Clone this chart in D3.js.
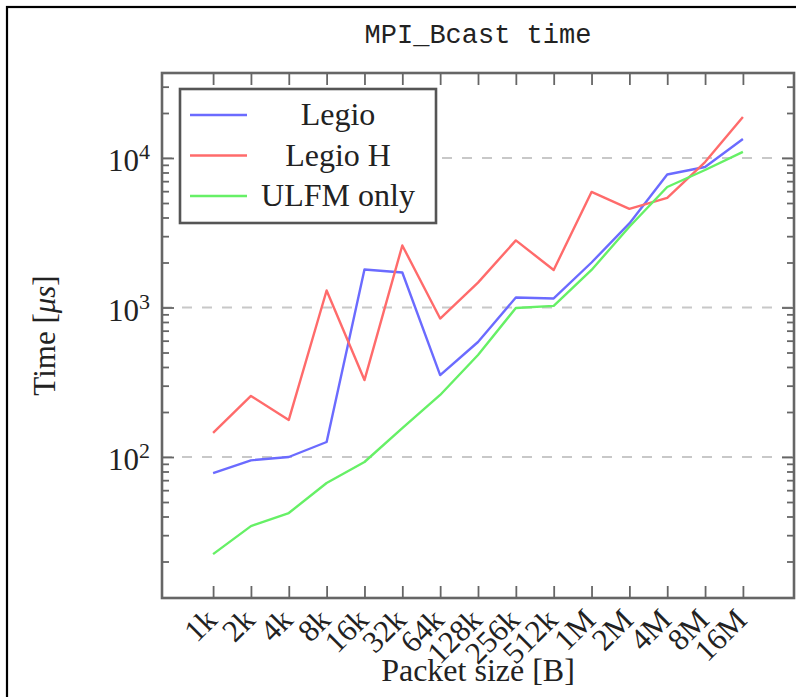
<!DOCTYPE html>
<html>
<head>
<meta charset="utf-8">
<script src="https://cdn.jsdelivr.net/npm/d3@7"></script>
<style>
  body { margin: 0; background: #fff; }
  svg { display: block; }
</style>
</head>
<body>
<div id="chart"></div>
<script>
"use strict";

// Data (time in microseconds)
const packetSizes = ["1k", "2k", "4k", "8k", "16k", "32k", "64k", "128k", "256k", "512k", "1M", "2M", "4M", "8M", "16M"];
const legioTimes = [78, 95, 100, 126, 1795, 1714, 353, 588, 1166, 1150, 2000, 3650, 7760, 8710, 13400];
const legioHTimes = [145, 256, 177, 1300, 327, 2600, 844, 1468, 2810, 1783, 5930, 4570, 5410, 9400, 18800];
const ulfmTimes = [22.4, 34.5, 42.2, 67, 92.6, 156, 260, 481, 993, 1025, 1783, 3470, 6400, 8310, 11000];
const seriesNames = ["Legio", "Legio H", "ULFM only"];
const seriesColors = ["#6b6bff", "#ff6b6b", "#66f066"];
const yDomain = [11.4, 37030];
const yGridValues = [100, 1000, 10000];

const chtWidth = 796,
  chtHeight = 697;

const margin = { top: 73, right: 2, bottom: 99, left: 162 };
const width = chtWidth - margin.left - margin.right,
  height = chtHeight - margin.top - margin.bottom;

const serifFont = "'Liberation Serif', 'Times New Roman', serif",
  monoFont = "'Liberation Mono', 'DejaVu Sans Mono', monospace",
  axisColor = "#666";

const series = seriesNames.map((name, i) => ({
  name: name,
  color: seriesColors[i],
  values: [legioTimes, legioHTimes, ulfmTimes][i].map((v, j) => ({ size: packetSizes[j], time: v })),
}));

const svg = d3
  .select("#chart")
  .append("svg")
  .attr("width", chtWidth)
  .attr("height", chtHeight);

svg.append("rect").attr("width", chtWidth).attr("height", chtHeight).attr("fill", "#fff");

// outer frame (cropped at right and bottom in the original)
svg
  .append("rect")
  .attr("x", 7)
  .attr("y", 7)
  .attr("width", 900)
  .attr("height", 900)
  .attr("fill", "none")
  .attr("stroke", "#000")
  .attr("stroke-width", 2.2);

const g = svg.append("g").attr("transform", `translate(${margin.left},${margin.top})`);

const x = d3.scalePoint().domain(packetSizes).range([0, width]).padding(1.35);
const y = d3.scaleLog().domain(yDomain).range([height, 0]);

// dashed major grid
g.append("g")
  .selectAll("line")
  .data(yGridValues)
  .join("line")
  .attr("x1", 0)
  .attr("x2", width)
  .attr("y1", (d) => y(d))
  .attr("y2", (d) => y(d))
  .attr("stroke", "#c8c8c8")
  .attr("stroke-width", 2)
  .attr("stroke-dasharray", "10,10");

// series lines
const line = d3
  .line()
  .x((d) => x(d.size))
  .y((d) => y(d.time));

g.append("g")
  .selectAll("path")
  .data(series)
  .join("path")
  .attr("d", (d) => line(d.values))
  .attr("fill", "none")
  .attr("stroke", (d) => d.color)
  .attr("stroke-width", 2.4)
  .attr("stroke-linejoin", "round");

// ticks, all pointing inwards
const allTicks = y.ticks();
const majorTicks = allTicks.filter((d) => Math.abs(Math.log10(d) - Math.round(Math.log10(d))) < 1e-9);
const minorTicks = allTicks.filter((d) => !majorTicks.includes(d));

function styleTicks(sel) {
  sel.select(".domain").remove();
  sel.selectAll(".tick line").attr("stroke", axisColor).attr("stroke-width", 1.8);
  sel.selectAll(".tick text").remove();
}

g.append("g").call(d3.axisLeft(y).tickValues(majorTicks).tickSize(-12)).call(styleTicks);
g.append("g").call(d3.axisLeft(y).tickValues(minorTicks).tickSize(-7)).call(styleTicks);
g.append("g")
  .attr("transform", `translate(${width},0)`)
  .call(d3.axisRight(y).tickValues(majorTicks).tickSize(-12))
  .call(styleTicks);
g.append("g")
  .attr("transform", `translate(${width},0)`)
  .call(d3.axisRight(y).tickValues(minorTicks).tickSize(-7))
  .call(styleTicks);
g.append("g")
  .attr("transform", `translate(0,${height})`)
  .call(d3.axisBottom(x).tickSize(-12))
  .call(styleTicks);
g.append("g").call(d3.axisTop(x).tickSize(-12)).call(styleTicks);

// y tick labels: 10^n
const yLabels = g
  .append("g")
  .selectAll("text")
  .data(majorTicks)
  .join("text")
  .attr("x", -12)
  .attr("y", (d) => y(d) + 13)
  .attr("text-anchor", "end")
  .attr("font-family", serifFont)
  .attr("font-size", 31)
  .attr("fill", "#222");
yLabels.append("tspan").text("10");
yLabels
  .append("tspan")
  .attr("dy", -12)
  .attr("font-size", 22)
  .text((d) => Math.round(Math.log10(d)));

// x tick labels rotated 45 degrees
g.append("g")
  .selectAll("text")
  .data(packetSizes)
  .join("text")
  .attr("transform", (d) => `translate(${x(d) - 2},${height + 16}) rotate(-45)`)
  .attr("dy", "0.35em")
  .attr("text-anchor", "end")
  .attr("font-family", serifFont)
  .attr("font-size", 31)
  .attr("fill", "#222")
  .text((d) => d);

// plot frame
g.append("rect")
  .attr("width", width)
  .attr("height", height)
  .attr("fill", "none")
  .attr("stroke", axisColor)
  .attr("stroke-width", 2.6);

// legend
const legend = g.append("g").attr("transform", "translate(18,16)");
legend
  .append("rect")
  .attr("width", 256)
  .attr("height", 134)
  .attr("fill", "#fff")
  .attr("stroke", "#555")
  .attr("stroke-width", 2.6);

const legendItems = legend
  .selectAll("g.item")
  .data(series)
  .join("g")
  .attr("class", "item")
  .attr("transform", (d, i) => `translate(0,${26 + i * 40.5})`);

legendItems
  .append("line")
  .attr("x1", 10)
  .attr("x2", 67)
  .attr("stroke", (d) => d.color)
  .attr("stroke-width", 2.4);

legendItems
  .append("text")
  .attr("x", 158)
  .attr("y", 10)
  .attr("text-anchor", "middle")
  .attr("font-family", serifFont)
  .attr("font-size", 32)
  .attr("fill", "#222")
  .text((d) => d.name);

// titles
svg
  .append("text")
  .attr("x", margin.left + width / 2)
  .attr("y", 43)
  .attr("text-anchor", "middle")
  .attr("font-family", monoFont)
  .attr("font-size", 27)
  .attr("fill", "#222")
  .text("MPI_Bcast time");

svg
  .append("text")
  .attr("x", margin.left + width / 2)
  .attr("y", 681)
  .attr("text-anchor", "middle")
  .attr("font-family", serifFont)
  .attr("font-size", 32)
  .attr("fill", "#222")
  .text("Packet size [B]");

const yTitle = svg
  .append("text")
  .attr("transform", `translate(55,${margin.top + height / 2}) rotate(-90)`)
  .attr("text-anchor", "middle")
  .attr("font-family", serifFont)
  .attr("font-size", 31)
  .attr("fill", "#222");
yTitle.append("tspan").text("Time [");
yTitle.append("tspan").attr("font-style", "italic").text("μs");
yTitle.append("tspan").text("]");
</script>
</body>
</html>
